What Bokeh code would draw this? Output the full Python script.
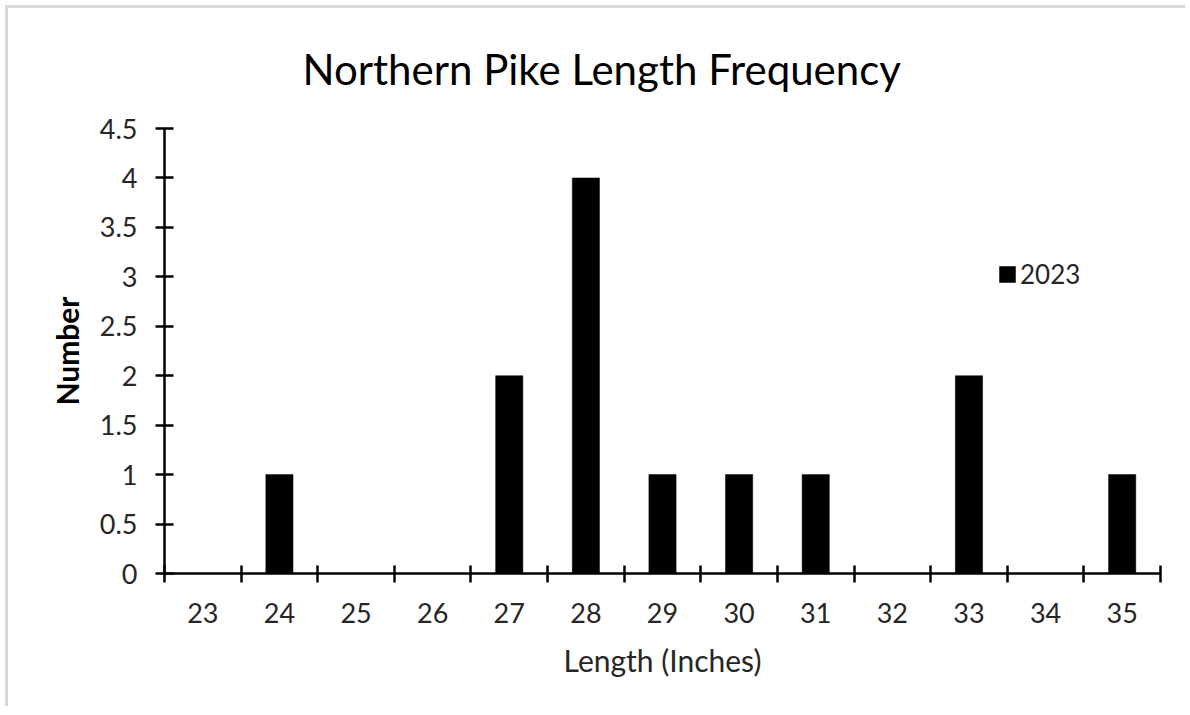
from bokeh.plotting import figure
from bokeh.models import (Range1d, FixedTicker, Legend, LegendItem, ColumnDataSource)
from bokeh.embed import file_html
from bokeh.resources import INLINE

# ---- data ----
lengths = [23, 24, 25, 26, 27, 28, 29, 30, 31, 32, 33, 34, 35]
counts_2023 = [0, 1, 0, 0, 2, 4, 1, 1, 1, 0, 2, 0, 1]
y_ticks = [0, 0.5, 1, 1.5, 2, 2.5, 3, 3.5, 4, 4.5]
y_tick_labels = ["0", "0.5", "1", "1.5", "2", "2.5", "3", "3.5", "4", "4.5"]
series_name = "2023"
title_text = "Northern Pike Length Frequency"
x_label = "Length (Inches)"
y_label = "Number"

FONT = "Lato"

src = ColumnDataSource(dict(x=lengths, top=counts_2023))

p = figure(width=1180, height=701, output_backend="svg", toolbar_location=None,
           x_range=Range1d(lengths[0] - 0.5, lengths[-1] + 0.5),
           y_range=Range1d(y_ticks[0], y_ticks[-1]),
           min_border_left=156, min_border_right=28, min_border_top=120, min_border_bottom=136)
p.outline_line_color = None
p.xgrid.visible = False
p.ygrid.visible = False
p.background_fill_color = "white"
p.border_fill_color = "white"
p.styles = {"margin-left": "8px", "margin-top": "8px",
            "box-shadow": "-3px -3px 0px 0px #d9d9d9"}

p.title.text = title_text
p.title.align = "left"
p.title.offset = 138
p.title.vertical_align = "top"
p.title.text_font = FONT
p.title.text_font_size = "42px"
p.title.text_font_style = "normal"
p.title.text_color = "black"
p.title.standoff = 66

r = p.vbar(x="x", top="top", bottom=0, width=0.355, source=src,
           fill_color="black", line_color="black", line_width=0.5)

# x axis: labels at centres, tick marks between categories
xa = p.xaxis[0]
xa.ticker = FixedTicker(ticks=lengths, minor_ticks=[v - 0.5 for v in lengths] + [lengths[-1] + 0.5])
xa.major_tick_line_color = None
xa.minor_tick_line_color = "black"
xa.minor_tick_line_width = 2.5
xa.minor_tick_in = 8
xa.minor_tick_out = 9
xa.axis_line_width = 2.5
xa.axis_line_color = "black"
xa.major_label_text_font = FONT
xa.major_label_text_font_size = "27px"
xa.major_label_text_color = "#262626"
xa.major_label_standoff = 20
xa.axis_label = x_label
xa.axis_label_text_font = FONT
xa.axis_label_text_font_style = "normal"
xa.axis_label_text_font_size = "30px"
xa.axis_label_text_color = "#262626"
xa.axis_label_standoff = 16

ya = p.yaxis[0]
ya.ticker = FixedTicker(ticks=y_ticks)
ya.major_label_overrides = {t: s for t, s in zip(y_ticks, y_tick_labels)}
ya.minor_tick_line_color = None
ya.major_tick_line_color = "black"
ya.major_tick_line_width = 2.5
ya.major_tick_in = 9
ya.major_tick_out = 9
ya.axis_line_width = 2.5
ya.axis_line_color = "black"
ya.major_label_text_font = FONT
ya.major_label_text_font_size = "27px"
ya.major_label_text_color = "#262626"
ya.major_label_standoff = 18
ya.axis_label = y_label
ya.axis_label_text_font = FONT
ya.axis_label_text_font_style = "bold"
ya.axis_label_text_font_size = "30px"
ya.axis_label_text_color = "black"
ya.axis_label_standoff = 12

legend = Legend(items=[LegendItem(label=series_name, renderers=[r])],
                location=(833, 283), padding=0, margin=0, spacing=0,
                glyph_width=20, glyph_height=20, label_standoff=3,
                label_text_font=FONT, label_text_font_size="26px", label_text_color="#262626",
                label_height=20, border_line_color=None, background_fill_alpha=0)
p.add_layout(legend)

open("out.html", "w").write(file_html(p, INLINE))
